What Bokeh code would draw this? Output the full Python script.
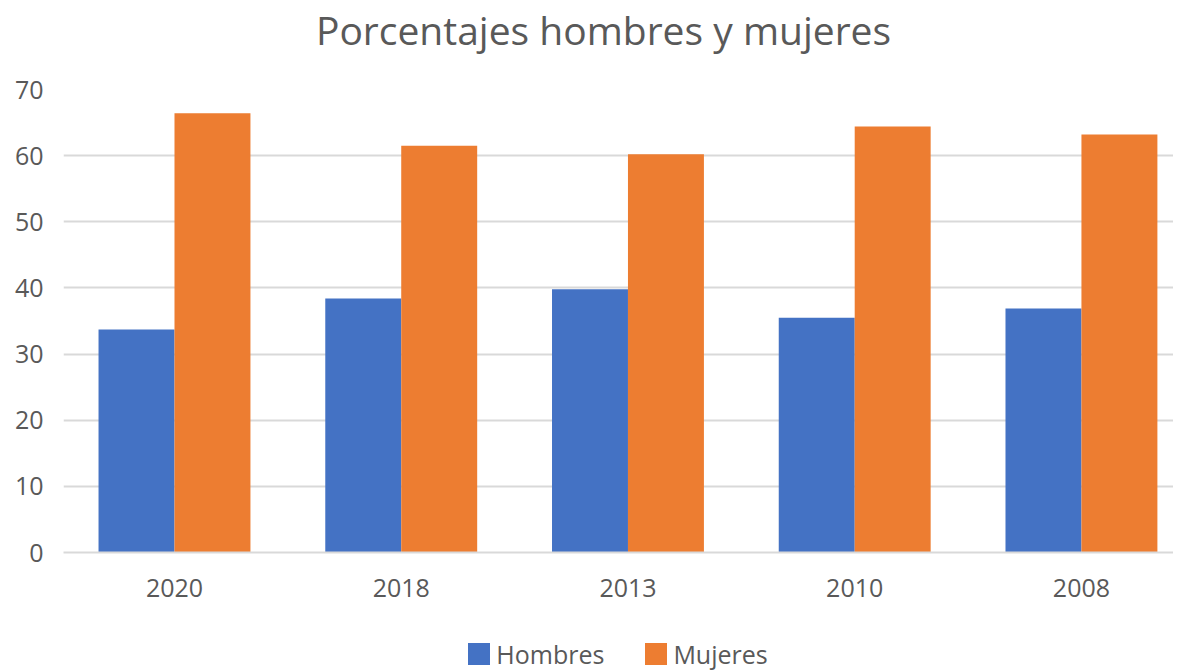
import numpy as np
from bokeh.plotting import figure
from bokeh.layouts import column
from bokeh.models import Range1d, FixedTicker, Div
from bokeh.embed import file_html
from bokeh.resources import INLINE

years = ["2020", "2018", "2013", "2010", "2008"]
hombres = [33.7, 38.4, 39.8, 35.5, 36.9]
mujeres = [66.4, 61.5, 60.2, 64.4, 63.2]
series_names = ["Hombres", "Mujeres"]
colors = ["#4472C4", "#ED7D31"]
y_ticks = [0, 10, 20, 30, 40, 50, 60, 70]
title_text = "Porcentajes hombres y mujeres"

FONT = "Open Sans"
TXT = "#595959"

title = Div(text=title_text, width=1173, height=69, margin=0,
            styles={"font-family": FONT, "font-size": "39px", "color": TXT,
                    "line-height": "1.362", "padding-top": "3px",
                    "padding-left": "34px", "text-align": "center",
                    "box-sizing": "border-box", "white-space": "nowrap"})

xs = np.arange(len(years))
p = figure(frame_width=1110, frame_height=463, output_backend="svg", toolbar_location=None,
           x_range=Range1d(-0.4895, 4.406), y_range=Range1d(0, 70),
           min_border_left=63, min_border_right=0, min_border_top=20, min_border_bottom=60,
           margin=0)
p.outline_line_color = None

bw = 0.335
r1 = p.vbar(x=xs - bw / 2, top=hombres, width=bw, color=colors[0], line_color=None)
r2 = p.vbar(x=xs + bw / 2, top=mujeres, width=bw, color=colors[1], line_color=None)

p.yaxis.ticker = FixedTicker(ticks=y_ticks)
p.yaxis.axis_line_color = None
p.yaxis.major_tick_line_color = None
p.yaxis.minor_tick_line_color = None
p.yaxis.major_label_standoff = 14
p.yaxis.major_label_text_font = FONT
p.yaxis.major_label_text_font_size = "25px"
p.yaxis.major_label_text_color = TXT

p.xaxis.ticker = FixedTicker(ticks=list(xs))
p.xaxis.major_label_overrides = {int(i): y for i, y in zip(xs, years)}
p.xaxis.axis_line_color = "#d9d9d9"
p.xaxis.axis_line_width = 2
p.xaxis.major_tick_line_color = None
p.xaxis.minor_tick_line_color = None
p.xaxis.major_label_standoff = 20
p.xaxis.major_label_text_font = FONT
p.xaxis.major_label_text_font_size = "25px"
p.xaxis.major_label_text_color = TXT

p.xgrid.grid_line_color = None
p.ygrid.grid_line_color = "#d9d9d9"
p.ygrid.grid_line_width = 2
p.ygrid.ticker = FixedTicker(ticks=y_ticks)

sq = "display:inline-block;width:22px;height:22px;margin-right:6px;background:{};"
items_html = "".join(
    '<span style="display:inline-flex;align-items:center;{}">'
    '<span style="{}"></span><span>{}</span></span>'.format(
        "margin-left:41px;" if i else "", sq.format(c), n)
    for i, (n, c) in enumerate(zip(series_names, colors)))
legend_div = Div(text=items_html, width=1173, height=56, margin=0,
                 styles={"font-family": FONT, "font-size": "25px", "color": TXT,
                         "line-height": "22px", "padding-top": "31px",
                         "padding-left": "63px", "box-sizing": "border-box",
                         "display": "flex", "justify-content": "center",
                         "white-space": "nowrap"})

layout = column(title, p, legend_div, spacing=0, margin=0)
open("out.html", "w").write(file_html(layout, INLINE))
